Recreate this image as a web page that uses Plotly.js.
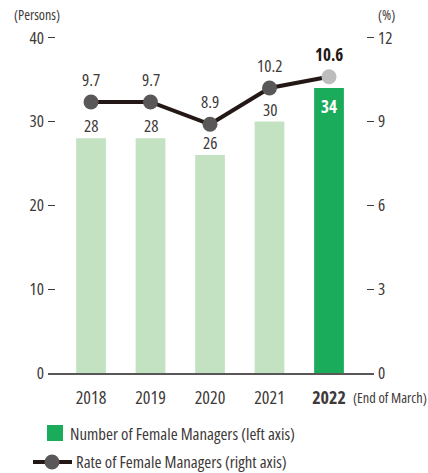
<!DOCTYPE html>
<html><head><meta charset="utf-8">
<script src="https://cdn.plot.ly/plotly-3.0.1.min.js"></script>
<style>html,body{margin:0;padding:0;background:#fff}#chart{width:428px;height:473px}
svg text, text{font-stretch:75%}</style>
</head><body><div id="chart"></div>
<script>
var years = ['2018','2019','2020','2021','2022'];
var yearLabels = ['2018','2019','2020','2021','<b>2022</b>'];
var managers = [28, 28, 26, 30, 34];
var rates = [9.7, 9.7, 8.9, 10.2, 10.6];
var leftTicks = [0, 10, 20, 30, 40];
var rightTicks = [0, 3, 6, 9, 12];

var FONT = '"Open Sans", "Roboto Condensed", sans-serif';
var TXT = '#3e3a39', DARK = '#231815';
var W = 428, H = 473, ML = 48, MR = 54, MT = 36, MB = 100;
function px(x){ return (x - ML) / (W - ML - MR); }
function py(y){ return (H - MB - y) / (H - MT - MB); }

var last = years.length - 1;
var barColors = years.map(function(_, i){ return i === last ? '#1aac5a' : '#c3e2c2'; });
var markerColors = years.map(function(_, i){ return i === last ? '#bdbdbd' : '#595757'; });

var bars = {
  type: 'bar', x: years, y: managers, width: 0.5,
  marker: {color: barColors}, hoverinfo: 'skip', showlegend: false
};
var line = {
  type: 'scatter', mode: 'lines+markers', x: years, y: rates, yaxis: 'y2',
  line: {color: DARK, width: 4},
  marker: {size: 15, color: markerColors, line: {width: 0}},
  hoverinfo: 'skip', showlegend: false
};

var annotations = [];
managers.forEach(function(v, i){
  if (i === last) {
    annotations.push({x: i, y: v, xref: 'x', yref: 'y', text: '<b>' + v + '</b>', showarrow: false,
      yanchor: 'top', yshift: -5, font: {family: FONT, size: 17, color: '#ffffff'}});
  } else {
    annotations.push({x: i, y: v, xref: 'x', yref: 'y', text: String(v), showarrow: false,
      yanchor: 'bottom', yshift: -1, font: {family: FONT, size: 17, color: TXT}});
  }
});
rates.forEach(function(v, i){
  var t = v.toFixed(1);
  annotations.push({x: i, y: v, xref: 'x', yref: 'y2', text: i === last ? '<b>' + t + '</b>' : t,
    showarrow: false, yanchor: 'bottom', yshift: 9,
    font: {family: FONT, size: 17, color: i === last ? DARK : TXT}});
});
annotations.push({xref: 'paper', yref: 'paper', x: px(12), y: py(15), xanchor: 'left', yanchor: 'middle',
  text: '(Persons)', showarrow: false, font: {family: FONT, size: 14, color: TXT}});
annotations.push({xref: 'paper', yref: 'paper', x: px(376), y: py(15), xanchor: 'left', yanchor: 'middle',
  text: '(%)', showarrow: false, font: {family: FONT, size: 14, color: TXT}});
annotations.push({xref: 'paper', yref: 'paper', x: px(351), y: py(397), xanchor: 'left', yanchor: 'middle',
  text: '(End of March)', showarrow: false, font: {family: FONT, size: 14.3, color: TXT}});
annotations.push({xref: 'paper', yref: 'paper', x: px(68), y: py(433), xanchor: 'left', yanchor: 'middle',
  text: 'Number of Female Managers (left axis)', showarrow: false, font: {family: FONT, size: 16.8, color: TXT}});
annotations.push({xref: 'paper', yref: 'paper', x: px(74), y: py(462), xanchor: 'left', yanchor: 'middle',
  text: 'Rate of Female Managers (right axis)', showarrow: false, font: {family: FONT, size: 16.8, color: TXT}});

var shapes = [
  {type: 'rect', xref: 'paper', yref: 'paper', x0: px(47), x1: px(63), y0: py(441), y1: py(425),
    fillcolor: '#1aac5a', line: {width: 0}},
  {type: 'line', xref: 'paper', yref: 'paper', x0: px(33), x1: px(72), y0: py(462), y1: py(462),
    line: {color: DARK, width: 4}},
  {type: 'circle', xref: 'paper', yref: 'paper', x0: px(44.5), x1: px(59.5), y0: py(469.5), y1: py(454.5),
    fillcolor: '#595757', line: {width: 0}}
];

var layout = {
  width: W, height: H,
  margin: {l: ML, r: MR, t: MT, b: MB, pad: 0},
  paper_bgcolor: '#ffffff', plot_bgcolor: '#ffffff',
  font: {family: FONT, size: 16, color: TXT},
  showlegend: false,
  xaxis: {
    type: 'category', range: [-0.723, 4.756], tickvals: years, ticktext: yearLabels,
    showgrid: false, zeroline: false, showline: true, linecolor: '#595757', linewidth: 1.5,
    ticks: '', tickfont: {family: FONT, size: 18, color: TXT}, ticklabelstandoff: 8, fixedrange: true
  },
  yaxis: {
    range: [0, 40.2], tickvals: leftTicks, showgrid: false, zeroline: false, showline: false,
    ticks: 'inside', ticklen: 7, tickwidth: 1.3, tickcolor: TXT,
    tickfont: {family: FONT, size: 17, color: TXT}, ticklabelstandoff: 3, fixedrange: true
  },
  yaxis2: {
    overlaying: 'y', side: 'right', range: [0, 12.06], tickvals: rightTicks,
    showgrid: false, zeroline: false, showline: false,
    ticks: 'inside', ticklen: 7, tickwidth: 1.3, tickcolor: TXT,
    tickfont: {family: FONT, size: 17, color: TXT}, ticklabelstandoff: 3, fixedrange: true
  },
  annotations: annotations,
  shapes: shapes
};

Plotly.newPlot('chart', [bars, line], layout, {displayModeBar: false, staticPlot: true});
</script></body></html>
